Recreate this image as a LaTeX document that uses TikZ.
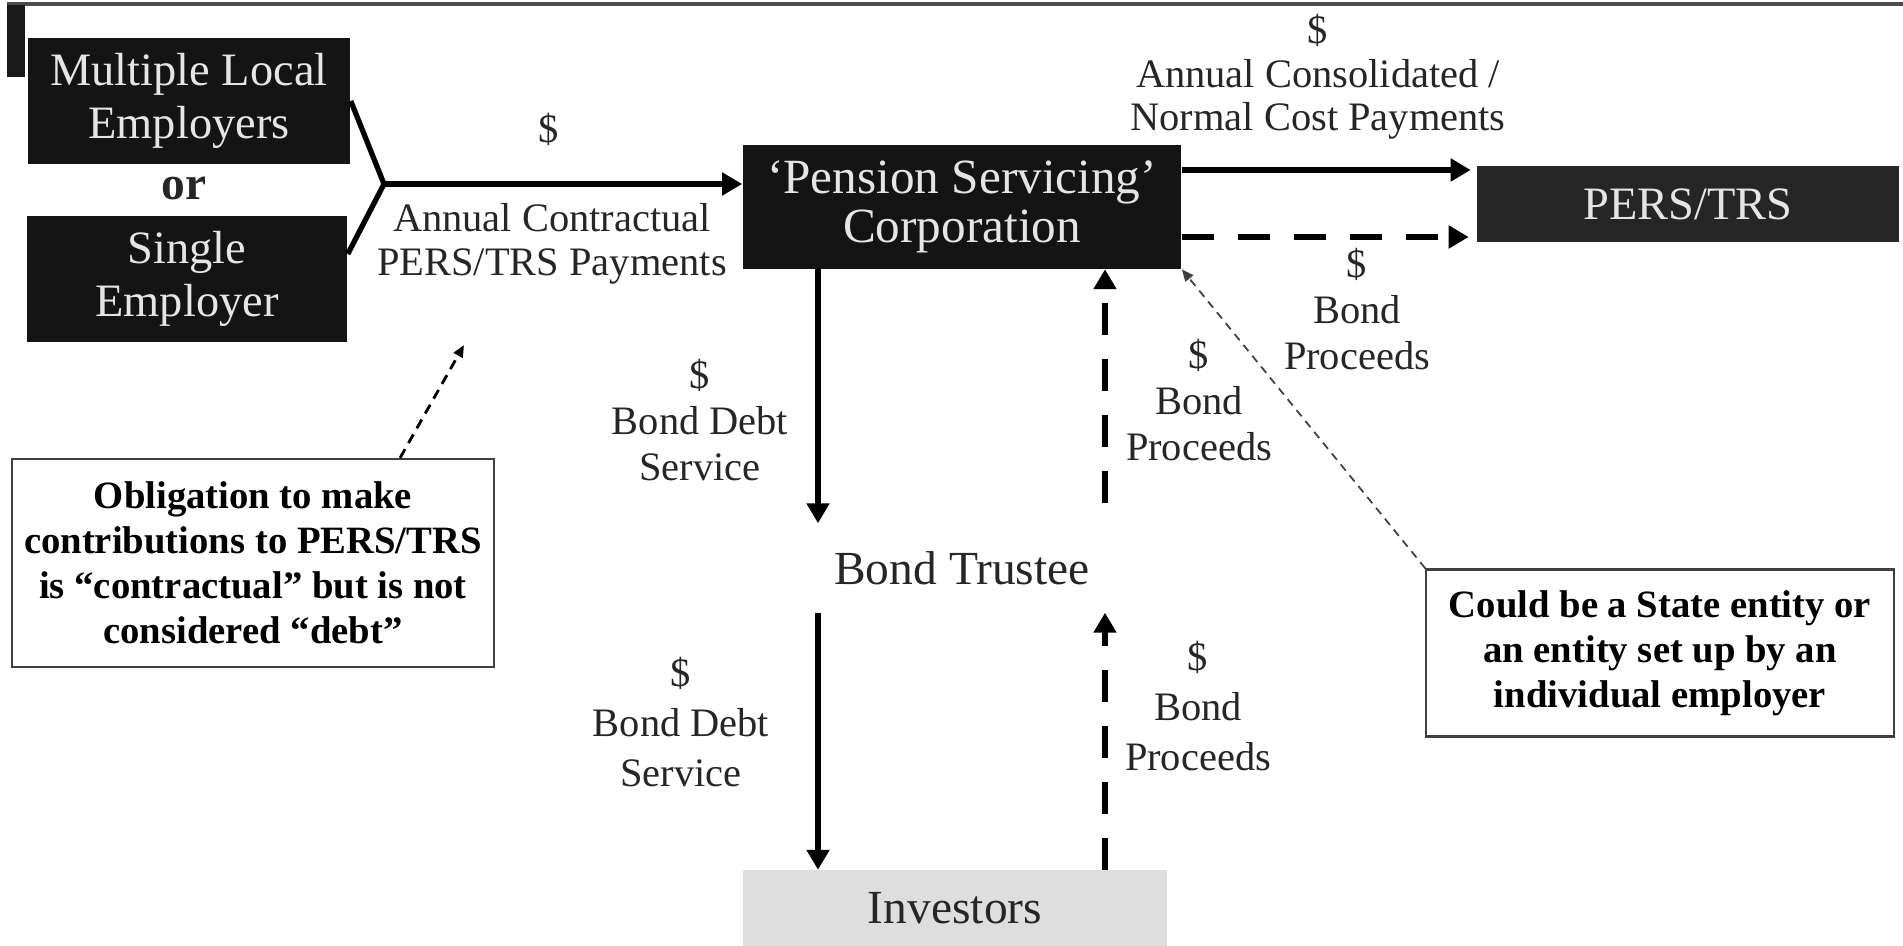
\documentclass[tikz,border=0pt]{standalone}
\usepackage{fontspec}
\setmainfont{Liberation Serif}
\usetikzlibrary{arrows.meta}

\begin{document}
\begin{tikzpicture}[x=0.01cm, y=-0.01cm]
    % Node styles
    \tikzstyle{dark box}=[fill=black!92, text=black!10, align=center, inner sep=0pt, font=\fontsize{13.2}{15.2}\selectfont]
    \tikzstyle{note box}=[draw=black!75, line width=0.6pt, align=center, inner sep=0pt, font=\fontsize{11}{12.8}\selectfont\bfseries]
    \tikzstyle{flow label}=[align=center, inner sep=0pt, text=black!85, font=\fontsize{11.5}{13.2}\selectfont]
    % Edge styles
    \tikzstyle{flow}=[line width=1.5pt, -{Triangle[length=0.2cm, width=0.22cm]}]
    \tikzstyle{flow dashed}=[flow, dash pattern=on 0.32cm off 0.24cm]
    \tikzstyle{pointer}=[line width=0.5pt, dash pattern=on 0.08cm off 0.06cm, -{Triangle[length=0.12cm, width=0.1cm]}]

    \useasboundingbox (0,0) rectangle (1903,946);

    % --- Frame ---
    \draw[line width=0.9pt, black!70] (7,4) -- (1903,4);
    \fill[black!90] (7,5) rectangle (25,77);

    % --- Employers ---
    \node[dark box, minimum width=3.22cm, minimum height=1.26cm] (emp_multi) at (189,101) {Multiple Local\\Employers};
    \node[text=black!85, font=\fontsize{13.5}{15}\selectfont\bfseries] (emp_or) at (184,188) {or};
    \node[dark box, minimum width=3.2cm, minimum height=1.25cm] (emp_single) at (187,279) {Single\\Employer};

    % --- Corporation, PERS/TRS, Trustee, Investors ---
    \node[dark box, font=\fontsize{14}{14}\selectfont, minimum width=4.38cm, minimum height=1.23cm] (psc) at (962,207) {`Pension Servicing'\\Corporation};
    \node[dark box, fill=black!85, minimum width=4.21cm, minimum height=0.75cm] (pers) at (1688,204) {PERS/TRS};
    \node[text=black!85, font=\fontsize{13.5}{15}\selectfont, minimum width=4.38cm, minimum height=0.88cm] (trustee) at (962,568) {Bond Trustee};
    \node[fill=black!13, text=black!85, font=\fontsize{13.5}{15}\selectfont, minimum width=4.24cm, minimum height=0.75cm] (investors) at (955,908) {Investors};

    % --- Notes ---
    \node[note box, minimum width=4.82cm, minimum height=2.08cm] (note_left) at (253,563) {Obligation to make\\contributions to PERS/TRS\\is ``contractual'' but is not\\considered ``debt''};
    \node[note box, minimum width=4.67cm, minimum height=1.67cm] (note_right) at (1660,653) {Could be a State entity or\\an entity set up by an\\individual employer};

    % --- Flow labels ---
    \node[flow label] (lbl_in_cash) at (549,129) {\$};
    \node[flow label, font=\fontsize{11.5}{12.4}\selectfont] (lbl_in) at (552,244) {Annual Contractual\\PERS/TRS Payments};
    \node[flow label, font=\fontsize{11.5}{12.4}\selectfont] (lbl_normal) at (1318,77) {\$\\Annual Consolidated /\\Normal Cost Payments};
    \node[flow label] (lbl_proc_pers) at (1357,309) {\$\\Bond\\Proceeds};
    \node[flow label] (lbl_debt_up) at (700,420) {\$\\Bond Debt\\Service};
    \node[flow label] (lbl_proc_up) at (1199,400) {\$\\Bond\\Proceeds};
    \node[flow label, font=\fontsize{11.5}{14.3}\selectfont] (lbl_debt_low) at (681,722) {\$\\Bond Debt\\Service};
    \node[flow label, font=\fontsize{11.5}{14.1}\selectfont] (lbl_proc_low) at (1198,706) {\$\\Bond\\Proceeds};

    % --- Employers to corporation ---
    \coordinate (join) at (384,184);
    \draw[line width=1.5pt] (emp_multi.east) -- (join);
    \draw[line width=1.5pt] ([yshift=0.25cm]emp_single.east) -- (join);
    \draw[flow] (join) -- (join -| psc.west);

    % --- Corporation to PERS/TRS ---
    \coordinate (psc_out_top) at ([yshift=0.37cm]psc.east);
    \coordinate (psc_out_low) at ([yshift=-0.30cm]psc.east);
    \draw[flow, shorten >=0.06cm] (psc_out_top) -- (psc_out_top -| pers.west);
    \draw[flow dashed, shorten >=0.08cm] (psc_out_low) -- (psc_out_low -| pers.west);

    % --- Corporation, trustee and investors ---
    \coordinate (col_debt) at (818,0);
    \coordinate (col_proc) at (1105,0);
    \draw[flow] (psc.south -| col_debt) -- (trustee.north -| col_debt);
    \draw[flow] (trustee.south -| col_debt) -- (investors.north -| col_debt);
    \draw[flow dashed] (investors.north -| col_proc) -- (trustee.south -| col_proc);
    \draw[flow dashed, shorten <=0.2cm] (trustee.north -| col_proc) -- (psc.south -| col_proc);

    % --- Note pointers ---
    \coordinate (contract_pt) at (464,345);
    \draw[pointer, line width=0.8pt, dash pattern=on 0.1cm off 0.07cm] ([xshift=1.47cm]note_left.north) -- (contract_pt);
    \draw[pointer, black!75] (note_right.north west) -- (psc.south east);
\end{tikzpicture}
\end{document}
